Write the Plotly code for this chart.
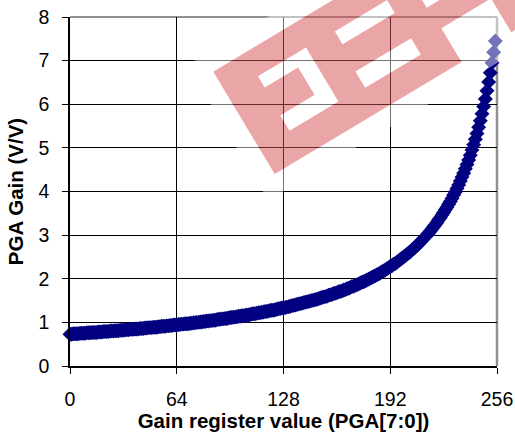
import plotly.graph_objects as go

# ---- data ----
register = list(range(256))
gain = [
    0.73, 0.73, 0.74, 0.74, 0.74, 0.74, 0.75, 0.75, 0.75, 0.75, 0.76, 0.76, 0.76, 0.77, 0.77, 0.77,
    0.77, 0.78, 0.78, 0.78, 0.79, 0.79, 0.79, 0.79, 0.80, 0.80, 0.80, 0.81, 0.81, 0.81, 0.82, 0.82,
    0.82, 0.83, 0.83, 0.83, 0.84, 0.84, 0.84, 0.85, 0.85, 0.85, 0.86, 0.86, 0.86, 0.87, 0.87, 0.88,
    0.88, 0.88, 0.89, 0.89, 0.89, 0.90, 0.90, 0.91, 0.91, 0.91, 0.92, 0.92, 0.93, 0.93, 0.94, 0.94,
    0.94, 0.95, 0.95, 0.96, 0.96, 0.97, 0.97, 0.97, 0.98, 0.98, 0.99, 0.99, 1.00, 1.00, 1.01, 1.01,
    1.02, 1.02, 1.03, 1.03, 1.04, 1.04, 1.05, 1.05, 1.06, 1.07, 1.07, 1.08, 1.08, 1.09, 1.09, 1.10,
    1.11, 1.11, 1.12, 1.12, 1.13, 1.14, 1.14, 1.15, 1.15, 1.16, 1.17, 1.17, 1.18, 1.19, 1.20, 1.20,
    1.21, 1.22, 1.22, 1.23, 1.24, 1.25, 1.25, 1.26, 1.27, 1.28, 1.28, 1.29, 1.30, 1.31, 1.32, 1.33,
    1.33, 1.34, 1.35, 1.36, 1.37, 1.38, 1.39, 1.40, 1.41, 1.42, 1.43, 1.44, 1.45, 1.46, 1.47, 1.48,
    1.49, 1.50, 1.51, 1.52, 1.53, 1.54, 1.56, 1.57, 1.58, 1.59, 1.60, 1.62, 1.63, 1.64, 1.66, 1.67,
    1.68, 1.70, 1.71, 1.72, 1.74, 1.75, 1.77, 1.78, 1.80, 1.82, 1.83, 1.85, 1.86, 1.88, 1.90, 1.92,
    1.93, 1.95, 1.97, 1.99, 2.01, 2.03, 2.05, 2.07, 2.09, 2.11, 2.13, 2.16, 2.18, 2.20, 2.23, 2.25,
    2.28, 2.30, 2.33, 2.35, 2.38, 2.41, 2.44, 2.47, 2.50, 2.53, 2.56, 2.59, 2.62, 2.66, 2.69, 2.73,
    2.76, 2.80, 2.84, 2.88, 2.92, 2.96, 3.00, 3.05, 3.09, 3.14, 3.19, 3.24, 3.29, 3.35, 3.40, 3.46,
    3.52, 3.58, 3.64, 3.71, 3.77, 3.84, 3.92, 3.99, 4.07, 4.15, 4.24, 4.33, 4.42, 4.52, 4.62, 4.72,
    4.83, 4.95, 5.07, 5.20, 5.33, 5.47, 5.62, 5.78, 5.95, 6.12, 6.31, 6.51, 6.72, 6.95, 7.19, 7.45,
]
x_ticks = [0, 64, 128, 192, 256]
y_ticks = [0, 1, 2, 3, 4, 5, 6, 7, 8]
x_title = "Gain register value (PGA[7:0])"
y_title = "PGA Gain (V/V)"

FONT = "Liberation Sans, Arial, sans-serif"
W, H = 515, 432
ML, MR, MT, MB = 70, 18, 17, 66
PW, PH = W - ML - MR, H - MT - MB

fig = go.Figure()
fig.add_trace(go.Scatter(
    x=register, y=gain, mode="markers",
    marker=dict(symbol="diamond", size=11.5, color="#000080", line=dict(width=0)),
    cliponaxis=False, showlegend=False, hoverinfo="skip",
))

# ---- watermark (decorative overlay) in pixel geometry ----
P0 = (213.3, 71.7)
U = (0.857, -0.514)
N = (0.514, 0.857)

def to_paper(s, r):
    px = P0[0] + s * U[0] + r * N[0]
    py = P0[1] + s * U[1] + r * N[1]
    return ((px - ML) / PW, ((MT + PH) - py) / PH)

def rect(s0, s1, r0, r1, rev=False):
    pts = [(s0, r0), (s1, r0), (s1, r1), (s0, r1)]
    if rev:
        pts = pts[::-1]
    xy = [to_paper(s, r) for s, r in pts]
    return "M" + " L".join(f"{x:.5f},{y:.5f}" for x, y in xy) + " Z "

band = (0, 420, 0, 119.5)
halo = (-19, 440, -19, 138.5)
letters = [
    (36, 92, 27, 40), (75, 92, 40, 72), (35, 92, 72, 90),
    (125, 186, 28, 43), (122, 187, 73, 92),
    (216, 290, 40, 55), (218, 276, 80, 119.5),
]

white_path = rect(*halo) + rect(*band, rev=True) + "".join(rect(*l) for l in letters)
pink_path = rect(*band) + "".join(rect(*l, rev=True) for l in letters)

shapes = [
    dict(type="line", xref="paper", yref="paper", x0=0, x1=1, y0=1, y1=1,
         line=dict(color="#909090", width=2.2), layer="between"),
    dict(type="line", xref="paper", yref="paper", x0=1, x1=1, y0=0, y1=1,
         line=dict(color="#909090", width=2.5), layer="between"),
    dict(type="path", xref="paper", yref="paper", path=white_path,
         fillcolor="rgba(255,255,255,0.45)", line=dict(width=0), layer="above"),
    dict(type="path", xref="paper", yref="paper", path=pink_path,
         fillcolor="rgba(213,75,80,0.5)", line=dict(width=0), layer="above"),
]

axis_common = dict(
    showgrid=True, gridcolor="black", gridwidth=1,
    showline=True, linecolor="black", linewidth=1.5,
    ticks="outside", ticklen=6, tickcolor="black", tickwidth=1,
    tickfont=dict(family=FONT, size=19.5, color="black"),
    zeroline=False, automargin=False,
)

fig.update_layout(
    width=W, height=H,
    margin=dict(l=ML, r=MR, t=MT, b=MB),
    paper_bgcolor="white", plot_bgcolor="white",
    shapes=shapes,
    xaxis=dict(range=[0, 256], tickvals=x_ticks, ticktext=[str(v) for v in x_ticks],
               ticklabelstandoff=9,
               title=dict(text=x_title, standoff=3,
                          font=dict(family=FONT, size=20.5, color="black", weight="bold")),
               **axis_common),
    yaxis=dict(range=[0, 8], tickvals=y_ticks, ticktext=[str(v) for v in y_ticks],
               ticklabelstandoff=9,
               title=dict(text=y_title, standoff=9,
                          font=dict(family=FONT, size=20.5, color="black", weight="bold")),
               **axis_common),
)

fig.write_html("out.html", config={"displayModeBar": False},
               post_script="document.body.style.margin='0';")
